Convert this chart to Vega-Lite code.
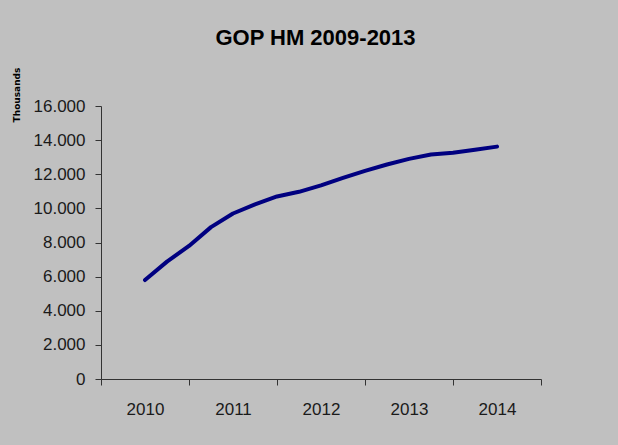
{
  "$schema": "https://vega.github.io/schema/vega-lite/v6.json",
  "width": 440,
  "height": 273,
  "autosize": {"type": "none"},
  "padding": {"left": 101, "top": 106, "right": 77, "bottom": 66},
  "background": "#C0C0C0",
  "title": {
    "text": "GOP HM 2009-2013",
    "font": "Liberation Sans",
    "fontSize": 22,
    "fontWeight": "bold",
    "color": "#000000",
    "anchor": "middle",
    "frame": "group",
    "dx": -5.5,
    "offset": 17
  },
  "data": {
    "values": [
      {"t": 2010.0, "v": 5800},
      {"t": 2010.25, "v": 6880},
      {"t": 2010.5, "v": 7800},
      {"t": 2010.75, "v": 8900},
      {"t": 2011.0, "v": 9700},
      {"t": 2011.25, "v": 10230},
      {"t": 2011.5, "v": 10700},
      {"t": 2011.75, "v": 10970},
      {"t": 2012.0, "v": 11350},
      {"t": 2012.25, "v": 11790},
      {"t": 2012.5, "v": 12200},
      {"t": 2012.75, "v": 12570},
      {"t": 2013.0, "v": 12900},
      {"t": 2013.25, "v": 13160},
      {"t": 2013.5, "v": 13260},
      {"t": 2013.75, "v": 13440},
      {"t": 2014.0, "v": 13620}
    ]
  },
  "mark": {
    "type": "line",
    "color": "#000080",
    "strokeWidth": 4,
    "strokeCap": "round",
    "strokeJoin": "round"
  },
  "encoding": {
    "x": {
      "field": "t",
      "type": "quantitative",
      "scale": {"domain": [2009.5, 2014.5], "nice": false, "zero": false},
      "axis": {
        "title": null,
        "grid": false,
        "values": [2009.5, 2010, 2010.5, 2011, 2011.5, 2012, 2012.5, 2013, 2013.5, 2014, 2014.5],
        "labelExpr": "datum.value % 1 == 0 ? format(datum.value, 'd') : ''",
        "labelFlush": false,
        "labelOverlap": false,
        "labelFont": "Liberation Sans",
        "labelFontSize": 17,
        "labelColor": "#1a1a1a",
        "labelPadding": 16,
        "tickSize": 6,
        "tickColor": "#333333",
        "tickOpacity": {"condition": {"test": "datum.value % 1 != 0", "value": 1}, "value": 0},
        "domainColor": "#333333",
        "domainWidth": 1
      }
    },
    "y": {
      "field": "v",
      "type": "quantitative",
      "scale": {"domain": [0, 16000], "nice": false},
      "axis": {
        "title": "Thousands",
        "titleFont": "DejaVu Sans",
        "titleFontSize": 9,
        "titleFontWeight": "bold",
        "titleColor": "#000000",
        "titleAngle": 270,
        "titleAlign": "center",
        "titleBaseline": "middle",
        "titleX": -85,
        "titleY": -11.5,
        "grid": false,
        "values": [0, 2000, 4000, 6000, 8000, 10000, 12000, 14000, 16000],
        "labelExpr": "replace(format(datum.value, ','), ',', '.')",
        "labelFont": "Liberation Sans",
        "labelFontSize": 17,
        "labelColor": "#1a1a1a",
        "labelPadding": 10,
        "labelOverlap": false,
        "labelFlush": false,
        "tickSize": 6,
        "tickColor": "#333333",
        "domainColor": "#333333",
        "domainWidth": 1
      }
    }
  },
  "config": {"view": {"stroke": null}}
}
